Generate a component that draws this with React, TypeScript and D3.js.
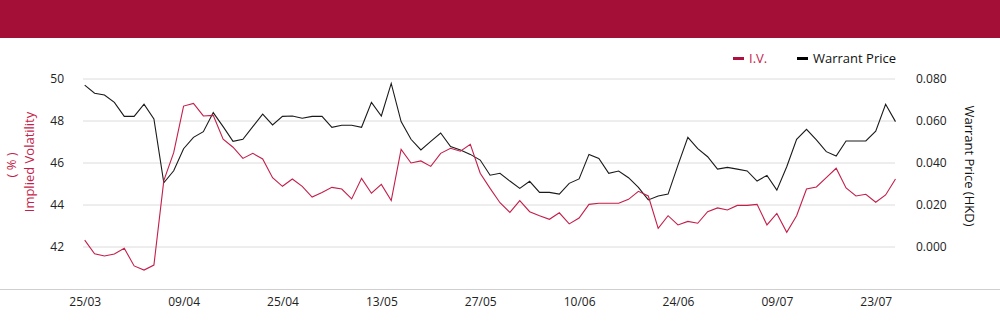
import React, { useEffect, useRef } from "react";
import * as d3 from "d3";

// trading days (dd/mm)
const dates = [
  "25/03", "26/03", "27/03", "28/03", "31/03",
  "01/04", "02/04", "03/04", "07/04", "08/04", "09/04",
  "10/04", "11/04", "14/04", "15/04", "16/04", "17/04", "22/04", "23/04", "24/04", "25/04",
  "28/04", "29/04", "30/04",
  "02/05", "06/05", "07/05", "08/05", "09/05", "12/05", "13/05",
  "14/05", "15/05", "16/05", "19/05", "20/05", "21/05", "22/05", "23/05", "26/05", "27/05",
  "28/05", "29/05", "30/05",
  "02/06", "03/06", "04/06", "05/06", "06/06", "09/06", "10/06",
  "11/06", "12/06", "13/06", "16/06", "17/06", "18/06", "19/06", "20/06", "23/06", "24/06",
  "25/06", "26/06", "27/06", "30/06",
  "02/07", "03/07", "04/07", "07/07", "08/07", "09/07",
  "10/07", "11/07", "14/07", "15/07", "16/07", "17/07", "18/07", "21/07", "22/07", "23/07",
  "24/07", "25/07",
];

const tickDates = ["25/03", "09/04", "25/04", "13/05", "27/05", "10/06", "24/06", "09/07", "23/07"];

const ivValues = [
  42.33, 41.68, 41.57, 41.67, 41.94, 41.1, 40.9, 41.14, 45.16, 46.49,
  48.71, 48.84, 48.24, 48.27, 47.13, 46.75, 46.22, 46.46, 46.19, 45.3,
  44.89, 45.24, 44.89, 44.38, 44.6, 44.84, 44.76, 44.29, 45.27, 44.56,
  44.98, 44.21, 46.65, 46.0, 46.1, 45.84, 46.46, 46.7, 46.56, 46.89,
  45.51, 44.79, 44.11, 43.65, 44.21, 43.68, 43.49, 43.32, 43.63, 43.1,
  43.38, 44.03, 44.08, 44.08, 44.08, 44.27, 44.65, 44.43, 42.89, 43.49,
  43.05, 43.22, 43.13, 43.68, 43.86, 43.76, 43.98, 43.98, 44.03, 43.05,
  43.6, 42.7, 43.49, 44.76, 44.86, 45.3, 45.75, 44.81, 44.43, 44.51,
  44.13, 44.48, 45.24,
];

const priceValues = [
  0.0771, 0.0732, 0.0724, 0.0689, 0.0622, 0.0622, 0.068, 0.061, 0.0306, 0.0363,
  0.0468, 0.0522, 0.0549, 0.064, 0.0573, 0.0503, 0.0513, 0.0573, 0.0633, 0.0581,
  0.0622, 0.0624, 0.0613, 0.0622, 0.0622, 0.057, 0.058, 0.058, 0.057, 0.0689,
  0.0624, 0.0779, 0.0597, 0.0513, 0.0462, 0.0503, 0.0543, 0.0478, 0.0462, 0.0441,
  0.0414, 0.0342, 0.0351, 0.0314, 0.0279, 0.0313, 0.026, 0.026, 0.0252, 0.0303,
  0.0324, 0.0441, 0.0422, 0.0351, 0.0362, 0.033, 0.0284, 0.0224, 0.0243, 0.0252,
  0.039, 0.0522, 0.0468, 0.043, 0.0371, 0.0379, 0.0371, 0.0362, 0.0314, 0.0341,
  0.0271, 0.0382, 0.0513, 0.056, 0.051, 0.0454, 0.0433, 0.0505, 0.0505, 0.0505,
  0.0552, 0.068, 0.0597,
];

const ivTicks = [42, 44, 46, 48, 50];
const priceTicks = [0, 0.02, 0.04, 0.06, 0.08];

const RED = "#c41e4a";
const FONT = "'Open Sans', sans-serif";

const App = () => {
  const chartRef = useRef<SVGSVGElement>(null);

  useEffect(() => {
    document.body.style.margin = "0";
    const svg = d3.select(chartRef.current);
    svg.selectAll("*").remove();

    const width = 1000;
    const height = 324;

    // header band
    svg.append("rect").attr("x", 0).attr("y", 0).attr("width", width).attr("height", 38).attr("fill", "#a30f36");

    const x = d3.scalePoint<string>().domain(dates).range([84.7, 895.5]);
    const yLeft = d3.scaleLinear().domain([40, 50]).range([289, 79]);
    const yRight = d3.scaleLinear().domain([-0.02, 0.08]).range([289, 79]);

    // grid
    svg
      .append("g")
      .selectAll("line")
      .data(ivTicks)
      .join("line")
      .attr("x1", 83)
      .attr("x2", 895)
      .attr("y1", (d) => yLeft(d))
      .attr("y2", (d) => yLeft(d))
      .attr("stroke", "#dcdcdc")
      .attr("stroke-width", 1);

    // bottom baseline
    svg.append("line").attr("x1", 0).attr("x2", width).attr("y1", 289.5).attr("y2", 289.5).attr("stroke", "#cfcfcf");

    // left axis
    const left = svg
      .append("g")
      .attr("transform", "translate(64,0)")
      .call(d3.axisLeft(yLeft).tickValues(ivTicks).tickSize(0).tickPadding(0));
    left.select(".domain").remove();
    left.selectAll("text").attr("font-family", FONT).attr("font-size", 12).attr("fill", "#222");

    // right axis
    const right = svg
      .append("g")
      .attr("transform", "translate(916,0)")
      .call(d3.axisRight(yRight).tickValues(priceTicks).tickFormat(d3.format(".3f")).tickSize(0).tickPadding(0));
    right.select(".domain").remove();
    right.selectAll("text").attr("font-family", FONT).attr("font-size", 12).attr("fill", "#222");

    // bottom axis
    const bottom = svg
      .append("g")
      .attr("transform", "translate(0,290)")
      .call(d3.axisBottom(x).tickValues(tickDates).tickSize(0).tickPadding(7));
    bottom.select(".domain").remove();
    bottom.selectAll("text").attr("font-family", FONT).attr("font-size", 12).attr("fill", "#222");

    // axis titles
    svg
      .append("text")
      .attr("transform", "translate(34,162) rotate(-90)")
      .attr("text-anchor", "middle")
      .attr("font-family", FONT)
      .attr("font-size", 13)
      .attr("fill", RED)
      .text("Implied Volatility");
    svg
      .append("text")
      .attr("transform", "translate(15.5,165) rotate(-90)")
      .attr("text-anchor", "middle")
      .attr("font-family", FONT)
      .attr("font-size", 13)
      .attr("fill", RED)
      .text("( % )");
    svg
      .append("text")
      .attr("transform", "translate(964.5,166) rotate(90)")
      .attr("text-anchor", "middle")
      .attr("font-family", FONT)
      .attr("font-size", 13)
      .attr("fill", "#111")
      .text("Warrant Price (HKD)");

    // lines
    const ivLine = d3
      .line<number>()
      .x((_, i) => x(dates[i]) as number)
      .y((d) => yLeft(d));
    const priceLine = d3
      .line<number>()
      .x((_, i) => x(dates[i]) as number)
      .y((d) => yRight(d));

    svg.append("path").datum(priceValues).attr("d", priceLine).attr("fill", "none").attr("stroke", "#1a1a1a").attr("stroke-width", 1.1);
    svg.append("path").datum(ivValues).attr("d", ivLine).attr("fill", "none").attr("stroke", RED).attr("stroke-width", 1.1);

    // legend
    const legend = [
      { name: "I.V.", color: "#b0103f", text: RED, x: 733 },
      { name: "Warrant Price", color: "#000", text: "#111", x: 797 },
    ];
    const lg = svg.append("g").selectAll("g").data(legend).join("g");
    lg.append("rect").attr("x", (d) => d.x).attr("y", 57).attr("width", 11).attr("height", 3).attr("fill", (d) => d.color);
    lg.append("text")
      .attr("x", (d) => d.x + 16)
      .attr("y", 63)
      .attr("font-family", FONT)
      .attr("font-size", 13)
      .attr("fill", (d) => d.text)
      .text((d) => d.name);
  }, []);

  return (
    <svg
      ref={chartRef}
      width={1000}
      height={324}
      viewBox="0 0 1000 324"
      style={{ position: "absolute", left: 0, top: 0, display: "block" }}
    />
  );
};

export default App;
